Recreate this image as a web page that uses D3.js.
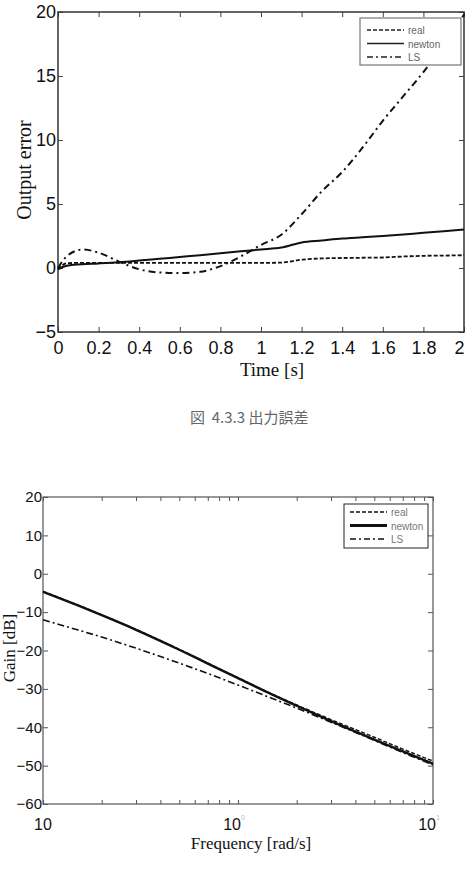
<!DOCTYPE html>
<html>
<head>
<meta charset="utf-8">
<script src="https://cdn.jsdelivr.net/npm/d3@7"></script>
<style>
  body { margin: 0; background: #fff; }
  svg text { font-family: "Liberation Sans", Arial, sans-serif; }
</style>
</head>
<body>
<div id="chart"></div>
<script>
// ---- data: output error (top chart)
const timeVals   = [0, 0.03, 0.05, 0.1, 0.12, 0.2, 0.3, 0.4, 0.5, 0.6, 0.7, 0.8, 0.9, 1.0, 1.1, 1.2, 1.3, 1.4, 1.5, 1.6, 1.7, 1.8, 1.9, 2.0]
const realErr    = [-0.1, 0.3, 0.38, 0.4, 0.4, 0.4, 0.4, 0.4, 0.4, 0.4, 0.4, 0.4, 0.4, 0.4, 0.42, 0.65, 0.75, 0.78, 0.8, 0.82, 0.9, 0.95, 0.97, 1.0]
const newtonErr  = [-0.1, 0.12, 0.2, 0.28, 0.3, 0.36, 0.45, 0.58, 0.72, 0.86, 1.0, 1.15, 1.3, 1.45, 1.6, 2.0, 2.15, 2.3, 2.4, 2.5, 2.62, 2.75, 2.87, 3.0]
const lsErr      = [0, 0.7, 1.0, 1.4, 1.45, 1.2, 0.5, -0.1, -0.35, -0.4, -0.3, 0.15, 0.9, 1.8, 2.6, 4.2, 6.0, 7.5, 9.4, 11.5, 13.4, 15.3, 17.4, 19.8]
const timeTicks  = [0, 0.2, 0.4, 0.6, 0.8, 1, 1.2, 1.4, 1.6, 1.8, 2]
const errTicks   = [-5, 0, 5, 10, 15, 20]

// ---- data: gain (bottom chart)
const freqVals    = [0.1, 0.15, 0.2, 0.3, 0.5, 0.7, 1, 1.5, 2, 3, 5, 7, 10]
const realGain    = [-4.6, -8.1, -10.7, -14.5, -19.7, -23.3, -27.1, -31.4, -34.2, -38.0, -42.6, -45.7, -48.8]
const newtonGain  = [-4.7, -8.2, -10.8, -14.6, -19.8, -23.4, -27.2, -31.5, -34.4, -38.4, -43.2, -46.3, -49.5]
const lsGain      = [-12.0, -14.6, -16.5, -19.4, -23.3, -26.0, -29.0, -32.5, -35.0, -38.7, -43.4, -46.6, -49.8]
const freqTicks   = [0.1, 1, 10]
const freqSup     = ["", "0", "1"]
const gainTicks   = [-60, -50, -40, -30, -20, -10, 0, 10, 20]

const seriesNames = ["real", "newton", "LS"]

var svg = d3.select("#chart")
    .append("svg")
    .attr("width", 465)
    .attr("height", 871)

var dashReal = "4,2"
var dashLS = "7,4,2,4"

// ================= top chart =================
var x1 = d3.scaleLinear().domain([0, 2]).range([58, 464])
var y1 = d3.scaleLinear().domain([-5, 20]).range([332, 12])

var g1 = svg.append("g")

// bottom axis with labels, inward ticks
g1.append("g")
    .attr("transform", "translate(0," + y1(-5) + ")")
    .call(d3.axisBottom(x1).tickValues(timeTicks).tickSize(-5).tickPadding(9)
        .tickFormat(d => String(+d.toFixed(1))))
    .call(g => g.select(".domain").remove())
    .call(g => g.selectAll("text").attr("font-size", 18).attr("fill", "#111"))
    .call(g => g.selectAll("line").attr("stroke", "#444"))
    .call(g => g.selectAll(".tick:last-of-type text").attr("dx", -5))

g1.append("g")
    .attr("transform", "translate(0," + y1(20) + ")")
    .call(d3.axisTop(x1).tickValues(timeTicks).tickSize(-5).tickFormat(""))
    .call(g => g.select(".domain").remove())
    .call(g => g.selectAll("line").attr("stroke", "#444"))

g1.append("g")
    .attr("transform", "translate(" + x1(0) + ",0)")
    .call(d3.axisLeft(y1).tickValues(errTicks).tickSize(-5).tickPadding(2))
    .call(g => g.select(".domain").remove())
    .call(g => g.selectAll("text").attr("font-size", 18).attr("fill", "#111"))
    .call(g => g.selectAll("line").attr("stroke", "#444"))

g1.append("g")
    .attr("transform", "translate(" + x1(2) + ",0)")
    .call(d3.axisRight(y1).tickValues(errTicks).tickSize(-5).tickFormat(""))
    .call(g => g.select(".domain").remove())
    .call(g => g.selectAll("line").attr("stroke", "#444"))

g1.append("rect")
    .attr("x", x1(0)).attr("y", y1(20))
    .attr("width", x1(2) - x1(0)).attr("height", y1(-5) - y1(20))
    .attr("fill", "none").attr("stroke", "#333").attr("stroke-width", 1.5)

var line1 = d3.line().curve(d3.curveMonotoneX)
function drawTop(vals, dash, w) {
    g1.append("path")
        .datum(timeVals.map((t, i) => [x1(t), y1(vals[i])]))
        .attr("d", line1)
        .attr("fill", "none")
        .attr("stroke", "#111")
        .attr("stroke-width", w)
        .attr("stroke-dasharray", dash)
}
drawTop(realErr, dashReal, 1.8)
drawTop(newtonErr, null, 2)
drawTop(lsErr, dashLS, 2)

// legend
var leg1 = g1.append("g")
leg1.append("rect")
    .attr("x", 360).attr("y", 18).attr("width", 101).attr("height", 47)
    .attr("fill", "#fff").attr("stroke", "#777").attr("stroke-width", 1.2)
var legDash1 = [dashReal, null, "6,3,2,3"]
seriesNames.forEach(function (name, i) {
    var ly = 30 + i * 13.5
    leg1.append("line")
        .attr("x1", 367).attr("x2", 404).attr("y1", ly).attr("y2", ly)
        .attr("stroke", "#222").attr("stroke-width", 1.5)
        .attr("stroke-dasharray", legDash1[i])
    leg1.append("text")
        .attr("x", 408).attr("y", ly + 4)
        .attr("font-size", 10).attr("fill", "#666")
        .text(name)
})

g1.append("text")
    .attr("transform", "translate(31,170) rotate(-90)")
    .attr("text-anchor", "middle")
    .attr("font-size", 20).attr("fill", "#111")
    .style("font-family", "'Liberation Serif', serif")
    .text("Output error")

g1.append("text")
    .attr("x", 272).attr("y", 376)
    .attr("text-anchor", "middle")
    .attr("font-size", 19).attr("fill", "#111")
    .style("font-family", "'Liberation Serif', serif")
    .text("Time [s]")

g1.append("text")
    .attr("x", 190).attr("y", 423)
    .attr("font-size", 15).attr("fill", "#666")
    .style("font-family", "'Noto Sans CJK JP', sans-serif")
    .text("図\u00a0\u00a04.3.3 出力誤差")

// ================= bottom chart =================
var x2 = d3.scaleLog().domain([0.1, 10]).range([43, 433])
var y2 = d3.scaleLinear().domain([-60, 20]).range([804, 497])

var g2 = svg.append("g")

var minorTicks = x2.ticks()

g2.append("g")
    .attr("transform", "translate(0," + y2(-60) + ")")
    .call(d3.axisBottom(x2).tickValues(minorTicks).tickSize(-4).tickFormat(""))
    .call(g => g.select(".domain").remove())
    .call(g => g.selectAll("line").attr("stroke", "#555"))

g2.append("g")
    .attr("transform", "translate(0," + y2(20) + ")")
    .call(d3.axisTop(x2).tickValues(minorTicks).tickSize(-4).tickFormat(""))
    .call(g => g.select(".domain").remove())
    .call(g => g.selectAll("line").attr("stroke", "#555"))

g2.append("g")
    .attr("transform", "translate(" + x2(0.1) + ",0)")
    .call(d3.axisLeft(y2).tickValues(gainTicks).tickSize(-5).tickPadding(1))
    .call(g => g.select(".domain").remove())
    .call(g => g.selectAll("text").attr("font-size", 15).attr("fill", "#111"))
    .call(g => g.selectAll("line").attr("stroke", "#555"))

g2.append("g")
    .attr("transform", "translate(" + x2(10) + ",0)")
    .call(d3.axisRight(y2).tickValues(gainTicks).tickSize(-5).tickFormat(""))
    .call(g => g.select(".domain").remove())
    .call(g => g.selectAll("line").attr("stroke", "#555"))

g2.append("rect")
    .attr("x", x2(0.1)).attr("y", y2(20))
    .attr("width", x2(10) - x2(0.1)).attr("height", y2(-60) - y2(20))
    .attr("fill", "none").attr("stroke", "#555").attr("stroke-width", 1.2)

// decade labels 10^n
freqTicks.forEach(function (f, i) {
    var t = g2.append("text")
        .attr("x", x2(f) - (i === 0 ? 0 : 4)).attr("y", 830)
        .attr("text-anchor", "middle")
        .attr("font-size", 16).attr("fill", "#111")
    t.append("tspan").text("10")
    if (freqSup[i]) {
        t.append("tspan").attr("dy", -10).attr("font-size", 7).attr("fill", "#bbb").text(freqSup[i])
    }
})

var line2 = d3.line().curve(d3.curveMonotoneX)
function drawBottom(vals, dash, w) {
    g2.append("path")
        .datum(freqVals.map((f, i) => [x2(f), y2(vals[i])]))
        .attr("d", line2)
        .attr("fill", "none")
        .attr("stroke", "#111")
        .attr("stroke-width", w)
        .attr("stroke-dasharray", dash)
}
drawBottom(lsGain, "7,3,2,3", 1.6)
drawBottom(newtonGain, null, 2.4)
drawBottom(realGain, "4,2", 1.4)

var leg2 = g2.append("g")
leg2.append("rect")
    .attr("x", 344).attr("y", 504).attr("width", 84).attr("height", 44)
    .attr("fill", "#fff").attr("stroke", "#222").attr("stroke-width", 1)
var legDash2 = ["4,2", null, "6,3,2,3"]
var legW2 = [1.3, 3, 1.5]
seriesNames.forEach(function (name, i) {
    var ly = 512 + i * 13.5
    leg2.append("line")
        .attr("x1", 350).attr("x2", 387).attr("y1", ly).attr("y2", ly)
        .attr("stroke", "#111").attr("stroke-width", legW2[i])
        .attr("stroke-dasharray", legDash2[i])
    leg2.append("text")
        .attr("x", 391).attr("y", ly + 4)
        .attr("font-size", 10).attr("fill", "#777")
        .text(name)
})

g2.append("text")
    .attr("transform", "translate(15,648) rotate(-90)")
    .attr("text-anchor", "middle")
    .attr("font-size", 17).attr("fill", "#111")
    .style("font-family", "'Liberation Serif', serif")
    .text("Gain [dB]")

g2.append("text")
    .attr("x", 251).attr("y", 849)
    .attr("text-anchor", "middle")
    .attr("font-size", 17).attr("fill", "#111")
    .style("font-family", "'Liberation Serif', serif")
    .text("Frequency [rad/s]")
</script>
</body>
</html>
